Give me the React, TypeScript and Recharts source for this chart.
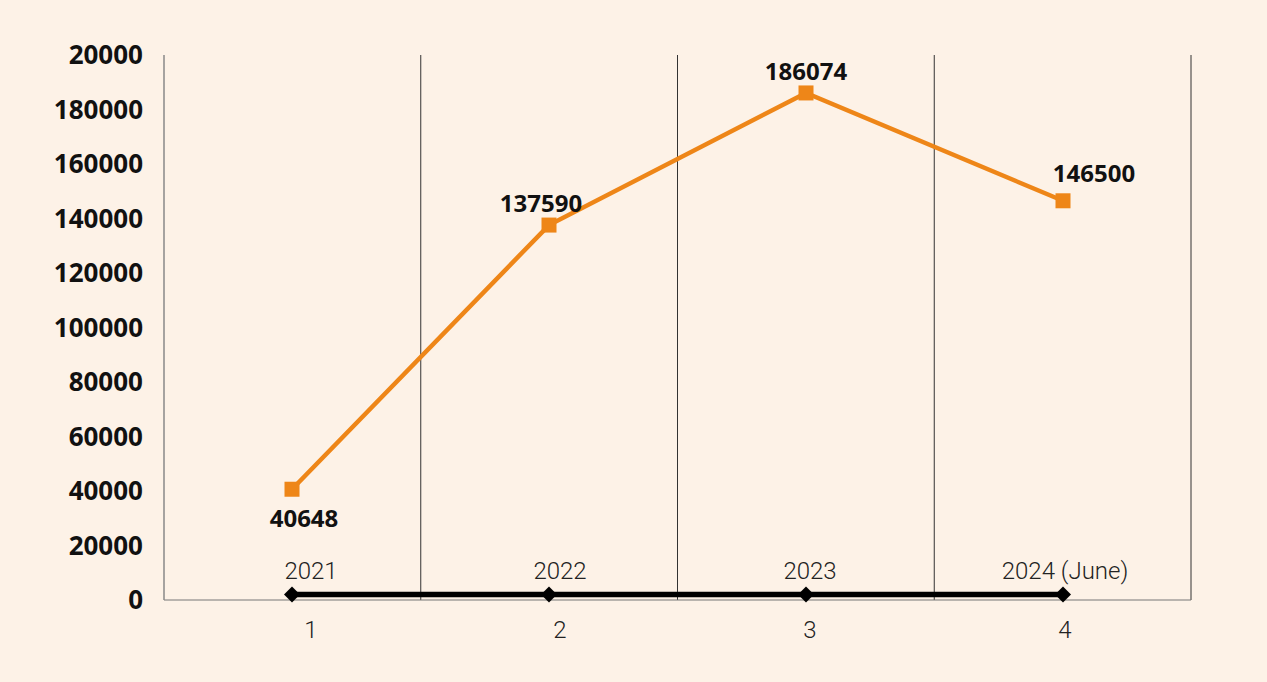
import { CartesianGrid, LabelList, Line, LineChart, XAxis, YAxis } from "recharts"

const categories = ["1", "2", "3", "4"]
const visitors = [40648, 137590, 186074, 146500]
const years = [2021, 2022, 2023, 2024]
const yearLabels = ["2021", "2022", "2023", "2024 (June)"]
const yTicks = [0, 20000, 40000, 60000, 80000, 100000, 120000, 140000, 160000, 180000, 200000]
const yTickLabels = ["0", "20000", "40000", "60000", "80000", "100000", "120000", "140000", "160000", "180000", "20000"]

const data = categories.map((c, i) => ({ cat: c, visitors: visitors[i], year: years[i], yearLabel: yearLabels[i] }))

// label nudges, copied by eye from the original
const valueOffsets = [
  { dx: 12, dy: 38 },
  { dx: -8, dy: -13 },
  { dx: 0, dy: -13 },
  { dx: 31, dy: -19 },
]
const textOffsets = [19, 11, 4, 2]

const ORANGE = "#EE8618"
const BG = "#FDF2E7"
const FONT = "'Noto Sans', sans-serif"
const LIGHT = "Roboto, sans-serif"

const SquareDot = (props: any) => {
  const { cx, cy, index } = props
  return <rect key={`sq-${index}`} x={cx - 7.5} y={cy - 7.5} width={15} height={15} fill={ORANGE} />
}

const DiamondDot = (props: any) => {
  const { cx, cy, index } = props
  return (
    <path
      key={`dm-${index}`}
      d={`M${cx},${cy - 8} L${cx + 8},${cy} L${cx},${cy + 8} L${cx - 8},${cy} Z`}
      fill="#000"
    />
  )
}

const valueLabel = (props: any) => {
  const { x, y, value, index } = props
  const o = valueOffsets[index]
  return (
    <text x={x + o.dx} y={y + o.dy} textAnchor="middle" fontSize={24} fontWeight={700} fill="#111" fontFamily={FONT}>
      {value}
    </text>
  )
}

const yearLabel = (props: any) => {
  const { x, y, index } = props
  return (
    <text x={x + textOffsets[index]} y={y - 15} textAnchor="middle" fontSize={24} fontWeight={300} fill="#222" fontFamily={LIGHT}>
      {yearLabels[index]}
    </text>
  )
}

const CatTick = (props: any) => {
  const { x, y, payload, index } = props
  return (
    <text x={x + textOffsets[index]} y={y + 36} textAnchor="middle" fontSize={24} fontWeight={300} fill="#222" fontFamily={LIGHT}>
      {payload.value}
    </text>
  )
}

export default function App() {
  return (
    <div style={{ position: "absolute", left: 0, top: 0, width: 1267, height: 682, background: BG }}>
      <LineChart width={1267} height={682} data={data} margin={{ top: 55, right: 76, bottom: 0, left: 0 }}>
        <CartesianGrid
          horizontal={false}
          stroke="#333"
          verticalCoordinatesGenerator={({ offset }: any) =>
            [1, 2, 3, 4].map((i) => offset.left + (i * offset.width) / categories.length)
          }
        />
        <XAxis
          dataKey="cat"
          height={82}
          padding={{ left: 128, right: 128 }}
          tickLine={false}
          tickSize={0}
          stroke="#777"
          tick={CatTick}
        />
        <YAxis
          width={164}
          domain={[0, 200000]}
          ticks={yTicks}
          interval={0}
          tickLine={false}
          tickSize={0}
          tickMargin={21}
          stroke="#888"
          strokeWidth={1.5}
          tickFormatter={(v: number) => yTickLabels[yTicks.indexOf(v)]}
          tick={{ fill: "#111", fontSize: 26, fontWeight: 700, fontFamily: FONT }}
        />
        <Line
          dataKey="year"
          stroke="#000"
          strokeWidth={5.5}
          dot={DiamondDot}
          activeDot={false}
          isAnimationActive={false}
        >
          <LabelList dataKey="yearLabel" content={yearLabel} />
        </Line>
        <Line
          dataKey="visitors"
          stroke={ORANGE}
          strokeWidth={4.5}
          dot={SquareDot}
          activeDot={false}
          isAnimationActive={false}
        >
          <LabelList dataKey="visitors" content={valueLabel} />
        </Line>
      </LineChart>
    </div>
  )
}
